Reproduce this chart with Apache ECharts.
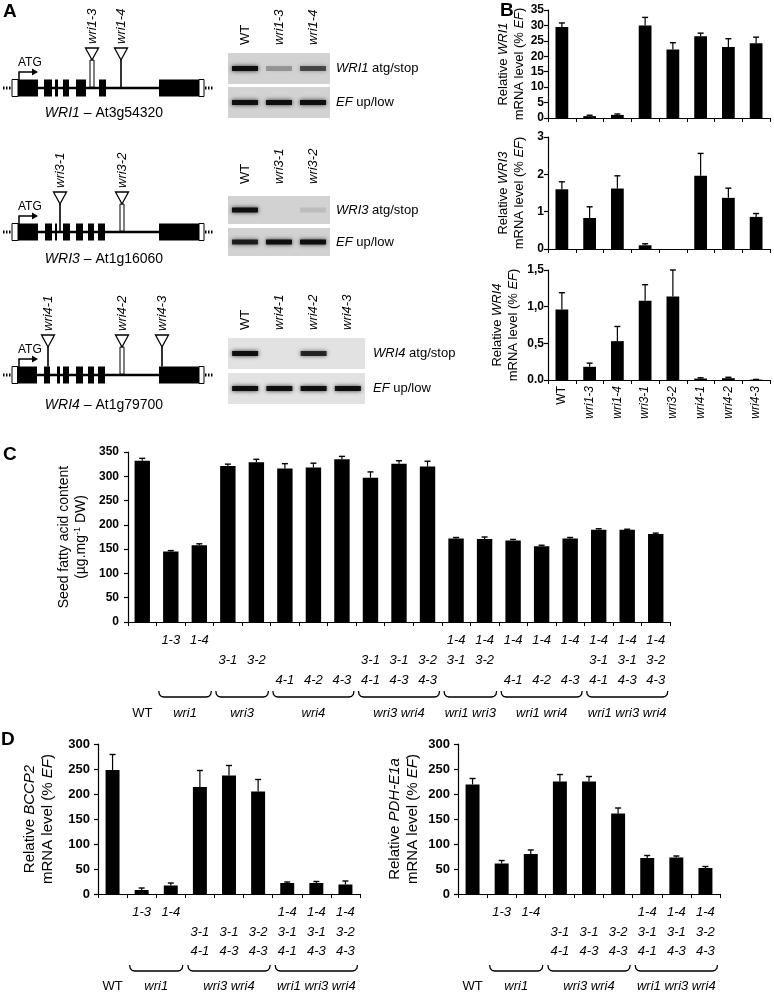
<!DOCTYPE html>
<html><head><meta charset="utf-8">
<script src="https://cdn.jsdelivr.net/npm/echarts@6/dist/echarts.min.js"></script>
<style>html,body{margin:0;padding:0;background:#fff}#c{width:774px;height:993px}</style>
</head><body><div id="c"></div>
<script>
// ---------------- DATA ----------------
// Panel B
const bCats = ['WT','wri1-3','wri1-4','wri3-1','wri3-2','wri4-1','wri4-2','wri4-3'];
const wri1Expr = [29.5, 0.6, 1.0, 30.0, 22.2, 26.5, 23.0, 24.2];
const wri1Err  = [1.3, 0.3, 0.3, 2.6, 2.2, 1.0, 2.7, 2.0];
const wri3Expr = [1.6, 0.83, 1.62, 0.1, 0, 1.96, 1.37, 0.86];
const wri3Err  = [0.2, 0.3, 0.34, 0.04, 0, 0.6, 0.26, 0.09];
const wri4Expr = [0.96, 0.18, 0.53, 1.08, 1.14, 0.02, 0.025, 0.005];
const wri4Err  = [0.23, 0.05, 0.2, 0.22, 0.36, 0.01, 0.012, 0.003];

// Panel C
const cRow1 = ['', '1-3','1-4','','','','','','','','','1-4','1-4','1-4','1-4','1-4','1-4','1-4','1-4'];
const cRow2 = ['', '','','3-1','3-2','','','','3-1','3-1','3-2','3-1','3-2','','','','3-1','3-1','3-2'];
const cRow3 = ['', '','','','','4-1','4-2','4-3','4-1','4-3','4-3','','','4-1','4-2','4-3','4-1','4-3','4-3'];
const faContent = [332,145,158,321,329,316,318,335,297,326,320,172,171,168,156,172,190,190,181];
const faErr     = [5,2,3,4,6,10,9,6,12,6,11,2,4,2,2,2,2,1,2];
const cGroups = [['WT',0,0],['wri1',1,2],['wri3',3,4],['wri4',5,7],['wri3 wri4',8,10],['wri1 wri3',11,12],['wri1 wri4',13,15],['wri1 wri3 wri4',16,18]];

// Panel D
const dRow1 = ['', '1-3','1-4','','','','1-4','1-4','1-4'];
const dRow2 = ['', '','','3-1','3-1','3-2','3-1','3-1','3-2'];
const dRow3 = ['', '','','4-1','4-3','4-3','4-1','4-3','4-3'];
const bccp2    = [248, 8, 17, 214, 237, 205, 22, 22, 19];
const bccp2Err = [31, 4, 5, 33, 20, 24, 2, 3, 7];
const pdh      = [219, 61, 80, 225, 225, 161, 72, 73, 52];
const pdhErr   = [12, 6, 8, 14, 10, 11, 5, 3, 3];
const dGroups = [['WT',0,0],['wri1',1,2],['wri3 wri4',3,5],['wri1 wri3 wri4',6,8]];

// Panel A: gene models (schematic units) and RT-PCR band intensities
const geneNames  = ['WRI1','WRI3','WRI4'];
const geneLoci   = ['At3g54320','At1g16060','At1g79700'];
const geneExons  = [
  [[18,38],[44,52],[55,58],[63,69],[76,86],[99,106],[159,199]],
  [[18,38],[45,52],[55,57],[63,70],[76,83],[88,94],[98,105],[159,199]],
  [[17,37],[44,50],[57,60],[63,69],[76,83],[88,94],[98,105],[159,199]]
];
const geneInserts = [
  [['wri1-3',92,'open'],['wri1-4',121,'solid']],
  [['wri3-1',60,'solid'],['wri3-2',122,'open']],
  [['wri4-1',48,'solid'],['wri4-2',122,'open'],['wri4-3',162,'solid']]
];
const gelLanes  = [['WT','wri1-3','wri1-4'],['WT','wri3-1','wri3-2'],['WT','wri4-1','wri4-2','wri4-3']];
const gelTarget = [[1,0.3,0.65],[1,0,0.1],[1,0,0.85,0]];
const gelEF     = [[1,1,1],[0.9,1,1],[1,1,1,1]];

// ---------------- CHART ----------------
const FONT = "'Liberation Sans', Arial, Helvetica, sans-serif";
const chart = echarts.init(document.getElementById('c'), null, {renderer:'canvas', width:774, height:993});

const richName = (fs) => ({
  n:{fontSize:fs, fontFamily:FONT, color:'#000', lineHeight:fs+3},
  i:{fontSize:fs, fontFamily:FONT, color:'#000', fontStyle:'italic', lineHeight:fs+3},
  s:{fontSize:fs-5, fontFamily:FONT, color:'#000', lineHeight:fs+3, verticalAlign:'top'}
});

function yAx(gridIndex, max, interval, name, nameGap, fs, labFs, margin, fmt) {
  return {type:'value', gridIndex, min:0, max, interval,
    axisLine:{show:true, lineStyle:{color:'#000', width:1.2}},
    axisTick:{show:true, length:4, lineStyle:{color:'#000', width:1.2}},
    splitLine:{show:false},
    axisLabel:{color:'#000', fontWeight:'bold', fontSize:labFs, fontFamily:FONT, margin, formatter: fmt},
    name, nameLocation:'middle', nameRotate:90, nameGap,
    nameTextStyle:{fontSize:fs, fontFamily:FONT, color:'#000', rich:richName(fs)}
  };
}
function xAx(gridIndex, data, label) {
  return {type:'category', gridIndex, data,
    axisLine:{show:true, lineStyle:{color:'#000', width:1.2}},
    axisTick:{show:true, length:4, alignWithLabel:false, interval:0, lineStyle:{color:'#000', width:1}},
    axisLabel: label || {show:false}
  };
}
function barS(i, vals, bw) {
  return {type:'bar', xAxisIndex:i, yAxisIndex:i, data:vals, barWidth:bw,
    itemStyle:{color:'#000'}, silent:true, animation:false};
}
function errS(i, vals, errs) {
  return {type:'custom', xAxisIndex:i, yAxisIndex:i, animation:false, silent:true, z:3,
    data: vals.map((v,k)=>[k, v, errs[k]]),
    renderItem(params, api){
      const k = api.value(0), v = api.value(1), e = api.value(2);
      if (!e) return null;
      const b = api.coord([k, v]), t = api.coord([k, v+e]);
      return {type:'group', children:[
        {type:'line', shape:{x1:b[0], y1:b[1], x2:t[0], y2:t[1]}, style:{stroke:'#000', lineWidth:1.2}},
        {type:'line', shape:{x1:t[0]-3, y1:t[1], x2:t[0]+3, y2:t[1]}, style:{stroke:'#000', lineWidth:1.4}}
      ]};
    }};
}
const multiRowLabel = (r1, r2, r3, margin, lh) => ({
  show:true, interval:0, margin, lineHeight:lh, fontSize:13, fontStyle:'italic', fontFamily:FONT, color:'#000',
  formatter:(v, i) => [r1[i]||' ', r2[i]||' ', r3[i]||' '].join('\n')
});

const cCats = faContent.map((_, i) => 'c'+i);
const dCats = bccp2.map((_, i) => 'd'+i);
const commaFmt = v => v === 0 ? '0.0' : v.toFixed(1).replace('.', ',');

const option = {
  backgroundColor:'#fff',
  animation:false,
  grid:[
    {left:548, top:10, width:222, height:108},
    {left:548, top:137, width:222, height:112},
    {left:548, top:270, width:222, height:110},
    {left:128, top:452, width:542, height:170},
    {left:98, top:744, width:262, height:150},
    {left:458, top:744, width:262, height:150}
  ],
  xAxis:[
    xAx(0, bCats), xAx(1, bCats),
    xAx(2, bCats, {show:true, interval:0, rotate:90, margin:6, fontSize:12, fontFamily:FONT, color:'#000',
      formatter: v => v === 'WT' ? '{n|WT}' : '{i|'+v+'}', rich:richName(12)}),
    xAx(3, cCats, multiRowLabel(cRow1, cRow2, cRow3, 8, 20)),
    xAx(4, dCats, multiRowLabel(dRow1, dRow2, dRow3, 9, 19.5)),
    xAx(5, dCats, multiRowLabel(dRow1, dRow2, dRow3, 9, 19.5))
  ],
  yAxis:[
    yAx(0, 35, 5, '{n|Relative }{i|WRI1}\n{n|mRNA level (% }{i|EF}{n|)}', 21, 13, 12, 4),
    yAx(1, 3, 1, '{n|Relative }{i|WRI3}\n{n|mRNA level (% }{i|EF}{n|)}', 21, 13, 12, 4),
    yAx(2, 1.5, 0.5, '{n|Relative }{i|WRI4}\n{n|mRNA level (% }{i|EF}{n|)}', 27, 13, 12, 4, commaFmt),
    yAx(3, 350, 50, '{n|Seed fatty acid content}\n{n|(µg.mg}{s|-1}{n| DW)}', 34, 14, 12, 9),
    yAx(4, 300, 50, '{n|Relative }{i|BCCP2}\n{n|mRNA level (% }{i|EF}{n|)}', 41, 15, 13, 8),
    yAx(5, 300, 50, '{n|Relative }{i|PDH-E1a}\n{n|mRNA level (% }{i|EF}{n|)}', 36, 15, 13, 8)
  ],
  series:[
    barS(0, wri1Expr, '46%'), errS(0, wri1Expr, wri1Err),
    barS(1, wri3Expr, '46%'), errS(1, wri3Expr, wri3Err),
    barS(2, wri4Expr, '46%'), errS(2, wri4Expr, wri4Err),
    barS(3, faContent, '54%'), errS(3, faContent, faErr),
    barS(4, bccp2, '48%'), errS(4, bccp2, bccp2Err),
    barS(5, pdh, '48%'), errS(5, pdh, pdhErr)
  ]
};
chart.setOption(option);

// ---------------- GRAPHIC ANNOTATIONS ----------------
const els = [];
function text(x, y, str, o) {
  o = o || {};
  const st = {text:str, fill:'#000', font: o.font || ('13px ' + FONT),
    align:o.align||'left', textAlign:o.align||'left', verticalAlign:o.va||'middle', textVerticalAlign:o.va||'middle'};
  if (o.rich) st.rich = o.rich;
  els.push({type:'text', x, y, rotation:o.rot||0, style:st, z:20, silent:true});
}
function line(x1,y1,x2,y2,w,extra){
  els.push({type:'line', shape:{x1,y1,x2,y2}, style:Object.assign({stroke:'#000', lineWidth:w||1}, extra||{}), z:10, silent:true});
}
function rect(x,y,w,h,style,z){
  els.push({type:'rect', shape:{x,y,width:w,height:h}, style, z:z||10, silent:true});
}

// Panel letters
text(3, 12, 'A', {font:'bold 19px ' + FONT});
text(500, 11, 'B', {font:'bold 19px ' + FONT});
text(3, 455, 'C', {font:'bold 19px ' + FONT});
text(1, 740, 'D', {font:'bold 19px ' + FONT});

// Gene models
const geneY = [88, 232, 375];
const geneLabelY = [113, 259, 405];
const GX = 0;
for (let g = 0; g < 3; g++) {
  const Y = geneY[g];
  line(GX+3, Y, GX+11, Y, 3, {lineDash:[1.5,1.5]});
  line(GX+205, Y, GX+213, Y, 3, {lineDash:[1.5,1.5]});
  line(GX+12, Y, GX+204, Y, 2.4);
  rect(GX+12, Y-8.5, 6, 17, {fill:'#fff', stroke:'#000', lineWidth:1}, 11);
  rect(GX+199, Y-8.5, 5, 17, {fill:'#fff', stroke:'#000', lineWidth:1}, 11);
  geneExons[g].forEach(([a,b]) => rect(GX+a, Y-8.5, b-a, 17, {fill:'#000'}, 11));
  els.push({type:'polyline', shape:{points:[[GX+19, Y-8],[GX+19, Y-16],[GX+33, Y-16]]}, style:{stroke:'#000', lineWidth:1.5, fill:null}, z:12, silent:true});
  els.push({type:'polygon', shape:{points:[[GX+32, Y-19.5],[GX+38, Y-16],[GX+32, Y-12.5]]}, style:{fill:'#000'}, z:12, silent:true});
  text(GX+18, Y-25, 'ATG', {font:'12px ' + FONT});
  geneInserts[g].forEach(([nm, x, kind]) => {
    const inExon = geneExons[g].some(([a,b]) => x > a && x < b);
    const stemEnd = inExon ? Y-8.5 : Y-1;
    if (kind === 'open') {
      rect(GX+x-2, Y-28, 4, stemEnd-(Y-28), {fill:'#fff', stroke:'#000', lineWidth:1}, 13);
    } else {
      line(GX+x, Y-28, GX+x, stemEnd, 1.6);
    }
    els.push({type:'polygon', shape:{points:[[GX+x-6.5, Y-40],[GX+x+6.5, Y-40],[GX+x, Y-28]]},
      style:{fill:'#fff', stroke:'#000', lineWidth:1.3}, z:14, silent:true});
    text(GX+x, Y-44, nm, {rot:Math.PI/2, font:'italic 13px ' + FONT});
  });
  text(GX+104, geneLabelY[g], '{i|' + geneNames[g] + '}{n| – ' + geneLoci[g] + '}',
    {align:'center', rich:richName(14)});
}

// RT-PCR gels
const gelGeom = [
  {x0:228, pitch:34, top:[53,87], h:31, labBottom:45, labX:336},
  {x0:228, pitch:34, top:[196,228], h:28, labBottom:184, labX:336},
  {x0:228, pitch:34.25, top:[338,373], h:31, labBottom:330, labX:373}
];
for (let s = 0; s < 3; s++) {
  const G = gelGeom[s], lanes = gelLanes[s], n = lanes.length;
  const w = G.pitch * n;
  [0,1].forEach(r => {
    const top = G.top[r];
    rect(G.x0, top, w, G.h, {fill: s===2 ? '#e2e2e2' : '#d2d2d2'}, 8);
    for (let k = 0; k < n; k++) {
      const cx = G.x0 + G.pitch*(k+0.5);
      const inten = r === 0 ? gelTarget[s][k] : gelEF[s][k];
      if (inten > 0) {
        rect(cx-13, top + G.h/2 - 2.5, 26, 5,
          {fill:'rgba(10,10,10,' + (0.95*inten).toFixed(2) + ')', shadowBlur:4, shadowColor:'rgba(0,0,0,' + (0.8*inten).toFixed(2) + ')'}, 9);
      }
    }
  });
  lanes.forEach((nm, k) => {
    const cx = G.x0 + G.pitch*(k+0.5);
    text(cx, G.labBottom, nm, {rot:Math.PI/2, font:(nm === 'WT' ? '' : 'italic ') + '13px ' + FONT});
  });
  text(G.labX, G.top[0] + G.h/2, '{i|' + geneNames[s] + '}{n| atg/stop}', {rich:richName(13)});
  text(G.labX, G.top[1] + G.h/2, '{i|EF}{n| up/low}', {rich:richName(13)});
}

// Group brackets under C and D
function groupMarks(xAxisIndex, groups, yBr, yLab) {
  groups.forEach(([nm, a, b]) => {
    const ca = chart.convertToPixel({xAxisIndex}, a);
    const cb = chart.convertToPixel({xAxisIndex}, b);
    let cx = (ca + cb) / 2;
    if (a !== b) {
      const x1 = ca - 12, x2 = cb + 12;
      els.push({type:'polyline', shape:{points:[[x1, yBr-6],[x1+0.6, yBr-2.5],[x1+2.5, yBr-0.6],[x1+5, yBr],
        [x2-5, yBr],[x2-2.5, yBr-0.6],[x2-0.6, yBr-2.5],[x2, yBr-6]]},
        style:{stroke:'#000', lineWidth:1.3, fill:null}, z:12, silent:true});
      cx = (x1 + x2) / 2;
    }
    const font = (nm === 'WT' ? '' : 'italic ') + '13px ' + FONT;
    text(cx, yLab, nm, {align:'center', font});
  });
}
groupMarks(3, cGroups, 697, 713);
groupMarks(4, dGroups, 971, 986);
groupMarks(5, dGroups, 971, 986);

chart.setOption({graphic:{elements:els}});
</script>
</body></html>
